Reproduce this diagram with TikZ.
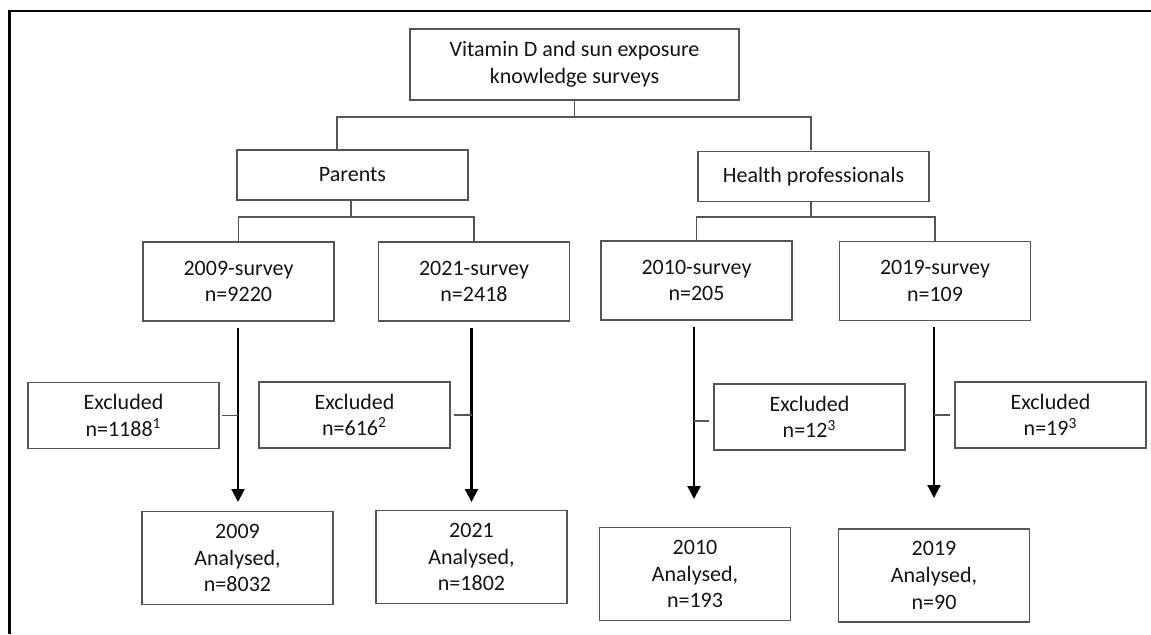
\documentclass[tikz,border=0pt]{standalone}
\usepackage{fontspec}
\setmainfont{Carlito}
\usetikzlibrary{arrows.meta}
\definecolor{boxgray}{RGB}{85,85,85}
\definecolor{txt}{RGB}{20,20,20}
\tikzset{
  box/.style={draw=boxgray, line width=0.7pt, fill=white, inner sep=0pt, align=center, text=txt,
    font=\fontsize{11}{13.3}\selectfont},
  topbox/.style={box, minimum width=164.5pt, minimum height=35.5pt},
  groupbox/.style={box, minimum width=115.5pt, minimum height=25pt},
  surveybox/.style={box, minimum width=95.5pt, minimum height=39.5pt},
  exclbox/.style={box, minimum width=95.5pt, minimum height=33pt},
  analbox/.style={box, minimum width=95.5pt, minimum height=46.5pt},
  conn/.style={draw=boxgray, line width=0.7pt},
  arr/.style={draw=black, line width=1.1pt, -{Triangle[width=6.5pt,length=6.5pt]}, shorten <=3pt},
  frame/.style={draw=black, line width=1.2pt}
}
\begin{document}
\begin{tikzpicture}[x=0.5pt,y=-0.5pt]
\useasboundingbox (0,0) rectangle (1151,634);
% frame
\coordinate (fr1) at (1151,11);
\coordinate (fr2) at (9.5,11);
\coordinate (fr3) at (9.5,634);
\draw[frame] (fr1) -- (fr2) -- (fr3);

% nodes
\node[topbox] (top) at (574.5,64.5) {Vitamin D and sun exposure\\knowledge surveys};
\node[groupbox] (parents) at (352.5,175) {Parents};
\node[groupbox] (health) at (813.5,176.5) {Health professionals};

\node[surveybox] (s2009) at (238.5,281.5) {2009-survey\\n=9220};
\node[surveybox] (s2021) at (474,281.5) {2021-survey\\n=2418};
\node[surveybox] (s2010) at (696.5,280.5) {2010-survey\\n=205};
\node[surveybox] (s2019) at (935,281) {2019-survey\\n=109};

\node[exclbox] (ex1) at (123.5,415.5) {Excluded\\n=1188\textsuperscript{1}};
\node[exclbox] (ex2) at (354.5,415) {Excluded\\n=616\textsuperscript{2}};
\node[exclbox] (ex3) at (809.5,417) {Excluded\\n=12\textsuperscript{3}};
\node[exclbox] (ex4) at (1050.5,415) {Excluded\\n=19\textsuperscript{3}};

\node[analbox] (a2009) at (237.5,558) {2009\\Analysed,\\n=8032};
\node[analbox] (a2021) at (471.5,557) {2021\\Analysed,\\n=1802};
\node[analbox] (a2010) at (695,574) {2010\\Analysed,\\n=193};
\node[analbox] (a2019) at (934,575.5) {2019\\Analysed,\\n=90};

% tree connectors
\coordinate (j1) at (574.5,117);
\coordinate (pd) at (337,150);
\coordinate (hd) at (811,150);
\draw[conn] (top.south) -- (j1);
\draw[conn] (j1) -| (pd);
\draw[conn] (j1) -| (hd);

\coordinate (j2) at (351,217);
\coordinate (j3) at (811,217);
\draw[conn] (parents.south -| j2) -- (j2);
\draw[conn] (j2) -| (s2009.north);
\draw[conn] (j2) -| (s2021.north);
\draw[conn] (health.south -| j3) -- (j3);
\draw[conn] (j3) -| (s2010.north);
\draw[conn] (j3) -| (s2019.north);

% arrows
\coordinate (t1) at (238,502);
\coordinate (t2) at (471.5,502);
\coordinate (t3) at (694,499);
\coordinate (t4) at (934,498);
\draw[arr] (s2009.south -| t1) -- (t1);
\draw[arr] (s2021.south -| t2) -- (t2);
\draw[arr] (s2010.south -| t3) -- (t3);
\draw[arr] (s2019.south -| t4) -- (t4);

% exclusion connectors
\draw[conn, shorten <=1pt] (ex1.east) -- (ex1.east -| t1);
\draw[conn, shorten <=1.5pt] (ex2.east) -- (ex2.east -| t2);
\draw[conn, shorten <=2pt] ([yshift=-2pt]ex3.west) -- ([yshift=-2pt]ex3.west -| t3);
\draw[conn, shorten <=2pt] (ex4.west) -- (ex4.west -| t4);
\end{tikzpicture}
\end{document}
